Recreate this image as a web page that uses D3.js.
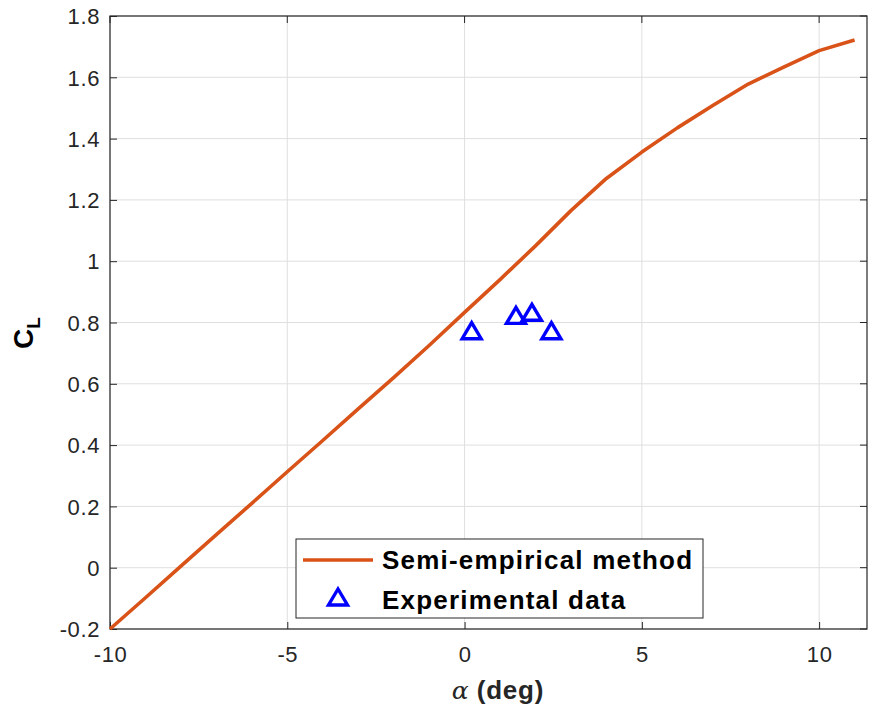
<!DOCTYPE html>
<html><head><meta charset="utf-8">
<script src="https://cdn.jsdelivr.net/npm/d3@7"></script>
<style>
body{margin:0;background:#fff;}
svg{display:block;font-family:"Liberation Sans",Arial,Helvetica,sans-serif;}
</style></head>
<body>
<script>
const alphaLine = [-10,-9,-8,-7,-6,-5,-4,-3,-2,-1,0,1,2,3,4,5,6,7,8,9,10,11];
const clLine = [-0.2,-0.098,0.005,0.108,0.21,0.313,0.415,0.518,0.62,0.725,0.833,0.94,1.05,1.165,1.27,1.356,1.435,1.508,1.578,1.633,1.687,1.722];
const alphaExp = [0.2,1.45,1.9,2.45];
const clExp = [0.77,0.82,0.83,0.77];
const xTicks = [-10,-5,0,5,10];
const yTicks = [-0.2,0,0.2,0.4,0.6,0.8,1,1.2,1.4,1.6,1.8];
const seriesNames = ["Semi-empirical method","Experimental data"];

const W=879,H=711;
const L=110,R=867,T=16,B=629;
const svg=d3.select("body").append("svg").attr("width",W).attr("height",H);
const x=d3.scaleLinear().domain([-10,11.35]).range([L,R]);
const y=d3.scaleLinear().domain([-0.2,1.8]).range([B,T]);
const axisCol="#262626";

// grid
svg.append("g").selectAll("line").data(xTicks).join("line")
 .attr("x1",d=>x(d)).attr("x2",d=>x(d)).attr("y1",T).attr("y2",B)
 .attr("stroke","#dfdfdf").attr("stroke-width",1);
svg.append("g").selectAll("line").data(yTicks).join("line")
 .attr("y1",d=>y(d)).attr("y2",d=>y(d)).attr("x1",L).attr("x2",R)
 .attr("stroke","#dfdfdf").attr("stroke-width",1);

// axes
const xa=svg.append("g").attr("transform",`translate(0,${B})`)
 .call(d3.axisBottom(x).tickValues(xTicks).tickSizeInner(-7).tickSizeOuter(0).tickPadding(17).tickFormat(d=>String(d)));
const ya=svg.append("g").attr("transform",`translate(${L},0)`)
 .call(d3.axisLeft(y).tickValues(yTicks).tickSizeInner(-7).tickSizeOuter(0).tickPadding(10).tickFormat(d=>String(+d.toFixed(1))));
[xa,ya].forEach(a=>{
 a.selectAll("text").attr("font-size",22).attr("fill",axisCol).attr("font-family","Liberation Sans, Arial, sans-serif").attr("letter-spacing",0.6);
 a.selectAll("line").attr("stroke",axisCol);
 a.select(".domain").remove();
});
ya.selectAll("text").attr("dy","0.35em");
// top/right ticks
svg.append("g").selectAll("line").data(xTicks).join("line")
 .attr("x1",d=>x(d)).attr("x2",d=>x(d)).attr("y1",T).attr("y2",T+7).attr("stroke",axisCol);
svg.append("g").selectAll("line").data(yTicks).join("line")
 .attr("y1",d=>y(d)).attr("y2",d=>y(d)).attr("x1",R).attr("x2",R-7).attr("stroke",axisCol);
// box
svg.append("rect").attr("x",L).attr("y",T).attr("width",R-L).attr("height",B-T)
 .attr("fill","none").attr("stroke",axisCol).attr("stroke-width",1.2);

// line
const lineData=alphaLine.map((a,i)=>[a,clLine[i]]);
svg.append("path").datum(lineData)
 .attr("d",d3.line().x(d=>x(d[0])).y(d=>y(d[1])))
 .attr("fill","none").attr("stroke","#D95319").attr("stroke-width",3.6).attr("stroke-linejoin","round");

// triangles
const tri="M0,-9L9.5,7L-9.5,7Z";
svg.append("g").selectAll("path").data(alphaExp.map((a,i)=>[a,clExp[i]])).join("path")
 .attr("d",tri).attr("transform",d=>`translate(${x(d[0])},${y(d[1])})`)
 .attr("fill","none").attr("stroke","#0000FF").attr("stroke-width",3.4);

// legend
const lg=svg.append("g");
lg.append("rect").attr("x",296).attr("y",539).attr("width",407).attr("height",79)
 .attr("fill","#fff").attr("stroke",axisCol).attr("stroke-width",1);
lg.append("line").attr("x1",303).attr("x2",373).attr("y1",560).attr("y2",560)
 .attr("stroke","#D95319").attr("stroke-width",3.6);
lg.append("path").attr("d",tri).attr("transform","translate(338,598)")
 .attr("fill","none").attr("stroke","#0000FF").attr("stroke-width",3.4);
lg.append("text").attr("x",382).attr("y",569).text(seriesNames[0])
 .attr("font-size",26).attr("font-weight","bold").attr("fill","#000").attr("letter-spacing",1.2);
lg.append("text").attr("x",382).attr("y",609).text(seriesNames[1])
 .attr("font-size",26).attr("font-weight","bold").attr("fill","#000").attr("letter-spacing",1.2);

// x label
const xl=svg.append("text").attr("x",498).attr("y",699).attr("text-anchor","middle").attr("fill",axisCol);
xl.append("tspan").text("α").attr("font-family","DejaVu Serif, serif").attr("font-style","italic").attr("font-size",25);
xl.append("tspan").text(" (deg)").attr("font-weight","bold").attr("font-size",26).attr("letter-spacing",0.8);

// y label
const yl=svg.append("text").attr("transform","translate(33,333) rotate(-90)").attr("text-anchor","middle").attr("fill","#000").attr("font-weight","bold");
yl.append("tspan").text("C").attr("font-size",28);
yl.append("tspan").text("L").attr("font-size",19).attr("dy",7);
</script>
</body></html>
